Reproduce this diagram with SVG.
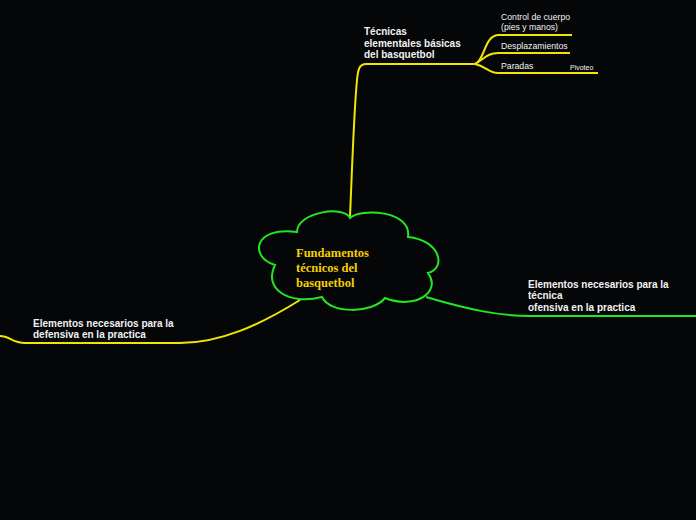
<svg xmlns="http://www.w3.org/2000/svg" width="696" height="520" viewBox="0 0 696 520">
<style>
.y{fill:none;stroke:#f2e600;stroke-width:2}
.g{fill:none;stroke:#22e622;stroke-width:2}
.t{font-family:"Liberation Sans",Arial,sans-serif;font-size:10px;font-weight:bold;fill:#f2f2f2}
.s{font-family:"Liberation Sans",Arial,sans-serif;font-size:8.7px;fill:#f2f2f2}
.c{font-family:"Liberation Serif","Times New Roman",serif;font-size:12.5px;font-weight:bold;fill:#f5d000}
</style>
<rect width="696" height="520" fill="#050608"/>
<g id="connectors">
<path class="y" d="M350,217 C352,170 354,110 357,80 C358,70 359,64 366,64 L475,64"/>
<path class="y" d="M475,64 C485,60 484,36 498,35 L572,35"/>
<path class="y" d="M475,64 C485,58 488,53 498,53 L570,53"/>
<path class="y" d="M475,64 C486,66 488,73 498,73 L598,73"/>
<path class="y" d="M300,300 C260,325 220,343 180,343 L25,343 C12,343 10,336 0,336"/>
<path class="g" d="M426,297 C470,310 500,316 530,316 L696,316"/>
</g>
<g id="center">
<path fill="#050608" stroke="#22e622" stroke-width="2" d="M297,232 C297,212 345,205 350,218 C360,208 412,210 408,237 C440,240 447,268 428,273 C442,292 415,310 385,298 C372,314 330,314 322,297 C288,306 263,288 275,265 C250,258 252,226 297,232 Z"/>
<text class="c" x="296" y="257">Fundamentos</text>
<text class="c" x="296" y="272">técnicos del</text>
<text class="c" x="296" y="287">basquetbol</text>
</g>
<g id="tecnicas">
<text class="t" x="364" y="35">Técnicas</text>
<text class="t" x="364" y="47">elementales básicas</text>
<text class="t" x="364" y="58">del basquetbol</text>
</g>
<g id="control">
<text class="s" x="501" y="20">Control de cuerpo</text>
<text class="s" x="501" y="30">(pies y manos)</text>
</g>
<g id="desplazamientos"><text class="s" x="501" y="49">Desplazamientos</text></g>
<g id="paradas"><text class="s" x="501" y="69">Paradas</text></g>
<g id="pivoteo"><text class="s" x="570" y="70" style="font-size:7px">Pivoteo</text></g>
<g id="defensiva">
<text class="t" x="33" y="327">Elementos necesarios para la</text>
<text class="t" x="33" y="338">defensiva en la practica</text>
</g>
<g id="ofensiva">
<text class="t" x="528" y="288">Elementos necesarios para la</text>
<text class="t" x="528" y="299">técnica</text>
<text class="t" x="528" y="311">ofensiva en la practica</text>
</g>
</svg>
